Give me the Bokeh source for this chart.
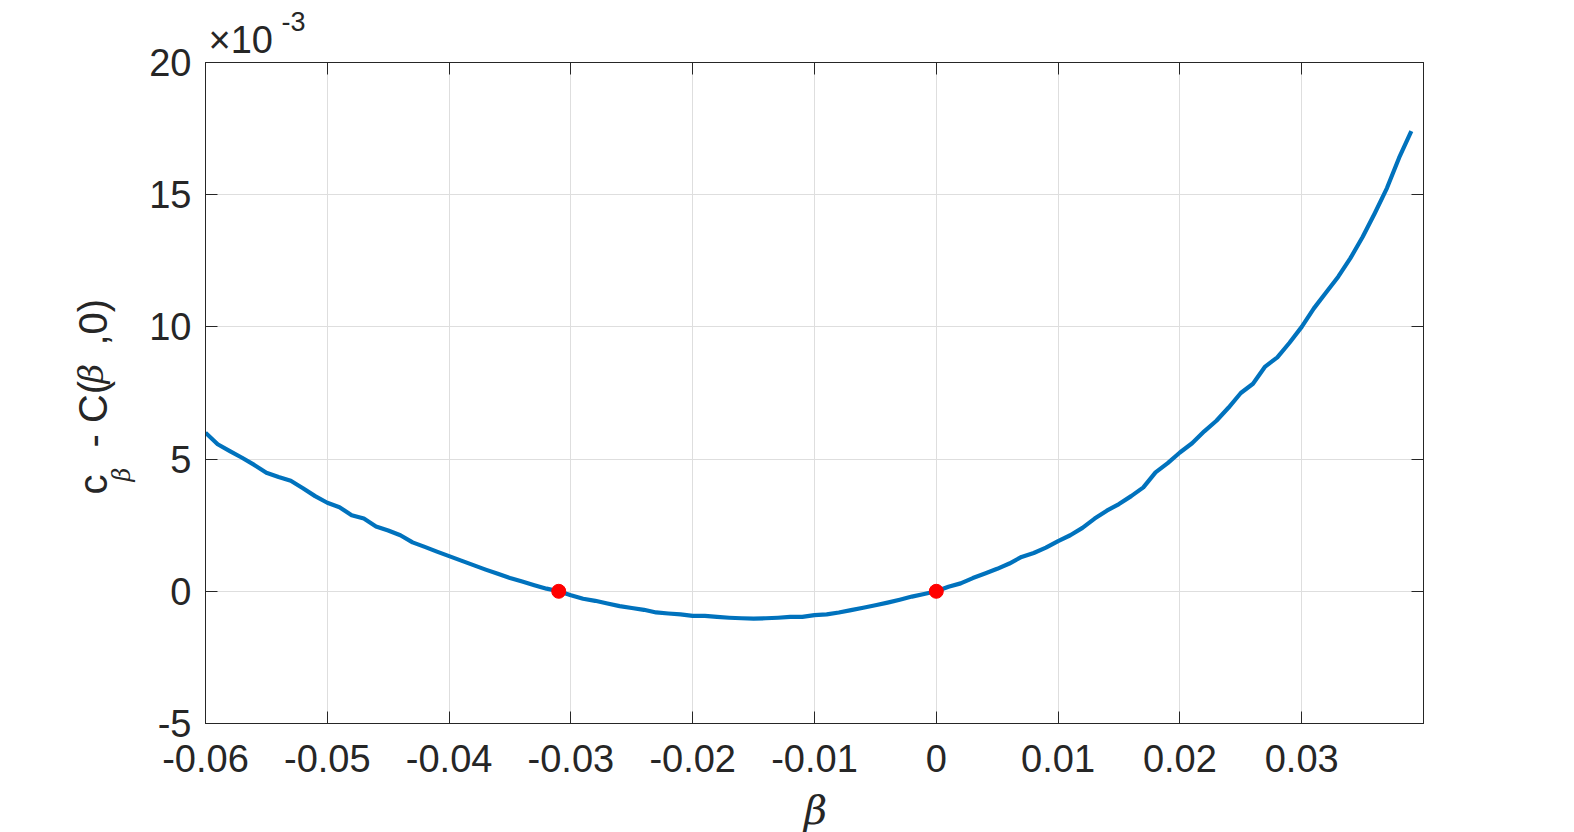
import math
from bokeh.plotting import figure
from bokeh.models import (FixedTicker, LinearAxis, CustomJSTickFormatter, Label,
                          Range1d, ColumnDataSource)
from bokeh.embed import file_html
from bokeh.resources import INLINE

# ---- data ----
beta = [round(-0.060 + 0.001 * i, 3) for i in range(100)]
c_minus_C_e3 = [
    6.00, 5.56, 5.30, 5.05, 4.78, 4.48, 4.32, 4.18, 3.90, 3.60,
    3.35, 3.18, 2.88, 2.75, 2.45, 2.30, 2.12, 1.85, 1.68, 1.50,
    1.33, 1.16, 0.99, 0.82, 0.66, 0.50, 0.37, 0.23, 0.10, 0.00,
    -0.15, -0.28, -0.36, -0.46, -0.56, -0.63, -0.70, -0.80, -0.84, -0.87,
    -0.93, -0.93, -0.97, -1.00, -1.02, -1.03, -1.02, -1.00, -0.97, -0.97,
    -0.90, -0.87, -0.80, -0.71, -0.62, -0.53, -0.43, -0.32, -0.20, -0.10,
    0.00, 0.17, 0.30, 0.50, 0.67, 0.85, 1.05, 1.30, 1.45, 1.65,
    1.90, 2.12, 2.40, 2.75, 3.05, 3.30, 3.60, 3.93, 4.50, 4.85,
    5.25, 5.60, 6.05, 6.45, 6.95, 7.50, 7.85, 8.50, 8.85, 9.40,
    10.00, 10.70, 11.30, 11.90, 12.60, 13.40, 14.30, 15.25, 16.40, 17.40,
]
root_beta = [-0.031, 0.0]
root_val = [0.0, 0.0]

x_ticks = [-0.06, -0.05, -0.04, -0.03, -0.02, -0.01, 0.0, 0.01, 0.02, 0.03]
y_ticks = [-5, 0, 5, 10, 15, 20]
X0, X1, Y0, Y1 = -0.06, 0.04, -5, 20

AX = "#262626"
FONT = "Liberation Sans"
GREEK = "DejaVu Serif"
FS = "38px"
YFS = "40px"
H = 832
FL, FT, FW, FH = 205, 62, 1218, 661
FB = FT + FH

p = figure(frame_width=FW, frame_height=FH,
           x_range=Range1d(X0, X1), y_range=Range1d(Y0, Y1),
           output_backend="svg", toolbar_location=None,
           min_border_left=FL, min_border_top=FT,
           min_border_right=145, min_border_bottom=H - FB,
           background_fill_color="white", border_fill_color="white")
p.outline_line_color = AX
p.outline_line_width = 1

xfmt = CustomJSTickFormatter(code="return (Math.round(tick*100)/100).toString();")
yfmt = CustomJSTickFormatter(code="return tick.toString();")
blank = CustomJSTickFormatter(code="return '';")

for ax in p.xaxis:
    ax.ticker = FixedTicker(ticks=x_ticks)
    ax.formatter = xfmt
    ax.major_label_standoff = 21
for ax in p.yaxis:
    ax.ticker = FixedTicker(ticks=y_ticks)
    ax.formatter = yfmt
    ax.major_label_standoff = 14

for ax in list(p.xaxis) + list(p.yaxis):
    ax.major_tick_in = 12
    ax.major_tick_out = 0
    ax.minor_tick_in = 0
    ax.minor_tick_out = 0
    ax.axis_line_color = AX
    ax.major_tick_line_color = AX
    ax.major_label_text_font = FONT
    ax.major_label_text_font_size = FS
    ax.major_label_text_color = AX

top = LinearAxis(ticker=FixedTicker(ticks=x_ticks), formatter=blank,
                 major_tick_in=12, major_tick_out=0, minor_tick_in=0, minor_tick_out=0,
                 axis_line_color=AX, major_tick_line_color=AX,
                 major_label_standoff=0)
right = LinearAxis(ticker=FixedTicker(ticks=y_ticks), formatter=blank,
                   major_tick_in=12, major_tick_out=0, minor_tick_in=0, minor_tick_out=0,
                   axis_line_color=AX, major_tick_line_color=AX,
                   major_label_standoff=0)
p.add_layout(top, "above")
p.add_layout(right, "right")

p.xgrid.ticker = FixedTicker(ticks=x_ticks)
p.ygrid.ticker = FixedTicker(ticks=y_ticks)
for g in (p.xgrid, p.ygrid):
    g.grid_line_color = "#dedede"
    g.grid_line_width = 1

src = ColumnDataSource(dict(x=beta, y=c_minus_C_e3))
p.line("x", "y", source=src, line_color="#0072BD", line_width=4.2, line_join="round")
p.scatter(root_beta, root_val, size=14, color="#FF0000", marker="circle")

# convert a canvas pixel position to data units (labels placed in side panels,
# so they are not clipped to the frame)
def dx(px):
    return X0 + (px - FL) / FW * (X1 - X0)

def dy(py):
    return Y1 - (py - FT) / FH * (Y1 - Y0)

base = dict(text_color=AX)

# x-axis label (beta)
p.add_layout(Label(x=dx(815), y=dy(809), text="\u03b2", text_font=GREEK, text_font_style="italic",
                   text_font_size="40px", text_align="center",
                   text_baseline="alphabetic", **base), "right")

# y-axis label  c_beta - C(beta,0), rotated
rot = math.pi / 2
common = dict(angle=rot, text_align="left", text_baseline="alphabetic", **base)
p.add_layout(Label(x=dx(92), y=dy(494), text="c", text_font=FONT, text_font_size=YFS, **common), "left")
p.add_layout(Label(x=dx(121), y=dy(481), text="\u03b2", text_font=GREEK, text_font_style="italic",
                   text_font_size="24px", **common), "right")
p.add_layout(Label(x=dx(92), y=dy(447), text="- C(", text_font=FONT, text_font_size=YFS, **common), "left")
p.add_layout(Label(x=dx(90), y=dy(383), text="\u03b2", text_font=GREEK, text_font_style="italic",
                   text_font_size="34px", **common), "right")
p.add_layout(Label(x=dx(92), y=dy(345), text=",0)", text_font=FONT, text_font_size=YFS, **common), "left")

# exponent label  x10^-3
p.add_layout(Label(x=dx(208), y=dy(39), text="\u00d710", text_font=FONT, text_font_size=FS,
                   text_align="left", text_baseline="alphabetic", **base), "above")
p.add_layout(Label(x=dx(281), y=dy(21), text="-3", text_font=FONT, text_font_size="27px",
                   text_align="left", text_baseline="alphabetic", **base), "above")

open("out.html", "w").write(file_html(p, INLINE))
